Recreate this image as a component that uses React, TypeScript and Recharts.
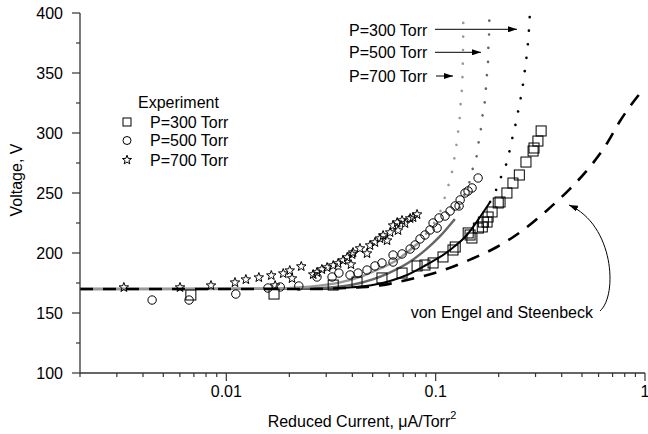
import React from "react";
import { ComposedChart, XAxis, YAxis, Line, Scatter } from "recharts";

const FONT = '"Liberation Sans", Arial, Helvetica, sans-serif';
const AXIS = "#333";

// ---- axis ticks ----
const xTicks = [
  0.002, 0.003, 0.004, 0.005, 0.006, 0.007, 0.008, 0.009,
  0.01, 0.02, 0.03, 0.04, 0.05, 0.06, 0.07, 0.08, 0.09,
  0.1, 0.2, 0.3, 0.4, 0.5, 0.6, 0.7, 0.8, 0.9, 1,
];
const xMajorTicks = [0.01, 0.1, 1];
const xTickLabels = ["0.01", "0.1", "1"];
const yTicks = [100, 125, 150, 175, 200, 225, 250, 275, 300, 325, 350, 375, 400];
const yMajorTicks = [100, 150, 200, 250, 300, 350, 400];
const yTickLabels = ["100", "150", "200", "250", "300", "350", "400"];

// ---- experiment (reduced current, voltage) ----
const exp300Torr: [number, number][] = [
  [0.00677, 165], [0.0169, 165.8], [0.0324, 173.3], [0.0421, 175.8], [0.0554, 179.2],
  [0.0691, 183.3], [0.0815, 189.2], [0.0889, 190], [0.0972, 191.7], [0.1084, 196.7],
  [0.121, 202.5], [0.124, 205], [0.143, 216.7], [0.146, 215], [0.149, 212.5],
  [0.16, 220.8], [0.167, 221.7], [0.169, 225.8], [0.176, 225.8], [0.178, 230],
  [0.186, 234.2], [0.199, 241.7], [0.203, 242.5], [0.219, 250], [0.234, 258.3],
  [0.251, 265], [0.27, 275.8], [0.292, 285], [0.295, 287.5], [0.308, 293.3], [0.319, 301.7],
];
const exp500Torr: [number, number][] = [
  [0.00442, 160.8], [0.00664, 160.8], [0.0111, 165.8], [0.0158, 170.8], [0.0181, 171.7],
  [0.0222, 172.5], [0.0271, 180], [0.032, 180], [0.0345, 183.3], [0.039, 181.7],
  [0.0426, 183.3], [0.047, 185.8], [0.0513, 189.2], [0.0554, 191.7], [0.0626, 198.3],
  [0.0626, 192.5], [0.0691, 199.2], [0.0755, 203.3], [0.0798, 206.7], [0.0842, 211.7],
  [0.0889, 215], [0.094, 219.2], [0.0972, 225], [0.1016, 220.8], [0.1038, 229.2],
  [0.1109, 230.8], [0.1172, 235], [0.1239, 239.2], [0.1294, 239.2], [0.1309, 244.2],
  [0.1381, 250], [0.1428, 251.7], [0.1492, 254.2], [0.1595, 262.5],
];
const exp700Torr: [number, number][] = [
  [0.00324, 171.7], [0.00601, 171.7], [0.00845, 173.3], [0.011, 175.8], [0.0124, 178.3],
  [0.0143, 180], [0.0164, 181.7], [0.0171, 173.3], [0.0187, 183.3], [0.0201, 185.8],
  [0.0206, 179.2], [0.0228, 189.2], [0.026, 182.5], [0.0271, 184.2], [0.0286, 186.7],
  [0.0303, 188.3], [0.0324, 190], [0.0342, 191.7], [0.0361, 194.2], [0.0378, 196.7],
  [0.0394, 190.8], [0.0399, 199.2], [0.0403, 200.8], [0.0435, 204.2], [0.047, 200],
  [0.0486, 206.7], [0.0513, 209.2], [0.0542, 212.5], [0.0561, 215], [0.0586, 210.8],
  [0.0606, 217.5], [0.0626, 223.3], [0.0655, 225.8], [0.0661, 219.2], [0.0691, 227.5],
  [0.0714, 225], [0.0755, 229.2], [0.078, 230], [0.0815, 232.5],
];

// ---- model curves ----
const model300Solid: [number, number][] = [
  [0.002, 170], [0.02, 170], [0.03, 170.3], [0.04, 171.5], [0.05, 173.3], [0.06, 176.5],
  [0.073, 181.7], [0.09, 190], [0.105, 196.7], [0.12, 204], [0.141, 215], [0.16, 228], [0.182, 242.5],
];
const model300Dotted: [number, number][] = [
  [0.182, 242.5], [0.196, 254], [0.207, 265], [0.219, 276], [0.227, 287.5], [0.234, 298],
  [0.242, 309], [0.249, 320], [0.256, 331], [0.262, 342], [0.267, 353], [0.272, 364],
  [0.276, 375], [0.279, 386], [0.282, 400],
];
const model500Solid: [number, number][] = [
  [0.002, 170], [0.02, 170.2], [0.03, 171], [0.04, 173.5], [0.05, 178], [0.06, 183.5],
  [0.075, 192.5], [0.09, 203], [0.105, 214], [0.1225, 227.5],
];
const model500Dotted: [number, number][] = [
  [0.1225, 227.5], [0.131, 239], [0.138, 250], [0.146, 260.8], [0.151, 271.7], [0.158, 283.3],
  [0.161, 294], [0.165, 305], [0.168, 316.7], [0.172, 327.5], [0.174, 338], [0.176, 350],
  [0.178, 361], [0.1785, 371.7], [0.18, 383], [0.1805, 395], [0.181, 400],
];
const model700Solid: [number, number][] = [
  [0.002, 170], [0.015, 170.3], [0.025, 172], [0.035, 175.5], [0.045, 181], [0.055, 187.5],
  [0.065, 194], [0.0815, 207.5],
];
const model700Dotted: [number, number][] = [
  [0.0815, 207.5], [0.09, 216], [0.099, 226], [0.107, 238], [0.112, 250], [0.117, 260.8],
  [0.121, 271.7], [0.124, 283.3], [0.127, 295.8], [0.129, 306.7], [0.131, 317.5], [0.132, 329],
  [0.134, 340], [0.1345, 351], [0.135, 362.5], [0.1352, 373], [0.1354, 384], [0.1355, 400],
];
const engelSteenbeck: [number, number][] = [
  [0.002, 170], [0.025, 170], [0.0313, 170.3], [0.0412, 171.2], [0.0542, 173], [0.073, 177.5],
  [0.108, 185.5], [0.146, 194.5], [0.196, 205], [0.259, 218.5], [0.34, 235.5], [0.438, 253.5],
  [0.547, 272], [0.659, 291.5], [0.76, 310], [0.917, 330], [1, 338],
];

const pts = (a: [number, number][]) => a.map(([x, y]) => ({ x, y }));

const findIdx = (list: number[], v: number) =>
  list.findIndex((m) => Math.abs(m - v) <= Math.abs(m) * 1e-6);

// ---- ticks ----
const BottomTick = (p: any) => {
  const { x, y, payload } = p;
  const i = findIdx(xMajorTicks, payload.value);
  return (
    <g>
      <line x1={x} x2={x} y1={y} y2={y + (i >= 0 ? 8 : 4)} stroke={AXIS} strokeWidth={1.2} />
      {i >= 0 && (
        <text x={x} y={y + 24} textAnchor="middle" fontSize={16} fontFamily={FONT} fill="#000">
          {xTickLabels[i]}
        </text>
      )}
    </g>
  );
};
const TopTick = (p: any) => {
  const { x, y, payload } = p;
  const i = findIdx(xMajorTicks, payload.value);
  return <line x1={x} x2={x} y1={y} y2={y - (i >= 0 ? 8 : 4)} stroke={AXIS} strokeWidth={1.2} />;
};
const LeftTick = (p: any) => {
  const { x, y, payload } = p;
  const i = findIdx(yMajorTicks, payload.value);
  return (
    <g>
      <line x1={x} x2={x - (i >= 0 ? 8 : 4)} y1={y} y2={y} stroke={AXIS} strokeWidth={1.2} />
      {i >= 0 && (
        <text x={x - 17} y={y + 5.7} textAnchor="end" fontSize={16} fontFamily={FONT} fill="#000">
          {yTickLabels[i]}
        </text>
      )}
    </g>
  );
};
const RightTick = (p: any) => {
  const { x, y, payload } = p;
  const i = findIdx(yMajorTicks, payload.value);
  return <line x1={x} x2={x + (i >= 0 ? 8 : 4)} y1={y} y2={y} stroke={AXIS} strokeWidth={1.2} />;
};

// ---- markers ----
const starPath = (cx: number, cy: number, R: number) => {
  const r = R * 0.42;
  let d = "";
  for (let k = 0; k < 10; k++) {
    const rad = k % 2 === 0 ? R : r;
    const a = -Math.PI / 2 + (k * Math.PI) / 5;
    d += (k === 0 ? "M" : "L") + (cx + rad * Math.cos(a)).toFixed(2) + "," + (cy + rad * Math.sin(a)).toFixed(2);
  }
  return d + "Z";
};
const SquareShape = (p: any) => (
  <rect x={p.cx - 5} y={p.cy - 5} width={10} height={10} fill="none" stroke="#000" strokeWidth={1} />
);
const CircleShape = (p: any) => (
  <circle cx={p.cx} cy={p.cy} r={4.2} fill="none" stroke="#000" strokeWidth={1} />
);
const StarShape = (p: any) => (
  <path d={starPath(p.cx, p.cy + 0.5, 5)} fill="none" stroke="#000" strokeWidth={1} strokeLinejoin="miter" />
);

const axisLine = { stroke: AXIS, strokeWidth: 1.3 };

export default function App() {
  const lineCommon = {
    xAxisId: "b",
    yAxisId: "l",
    dataKey: "y",
    type: "monotone" as const,
    dot: false,
    activeDot: false,
    isAnimationActive: false,
    legendType: "none" as const,
  };
  const dotted = { strokeDasharray: "0.1 13.5", strokeLinecap: "round" as const, strokeWidth: 2.6 };
  return (
    <div style={{ position: "relative", width: 648, height: 434, fontFamily: FONT }}>
      <style>{"body{margin:0}"}</style>
      <ComposedChart width={648} height={434} margin={{ top: 13, right: 3, bottom: 0, left: 0 }}>
        <XAxis
          xAxisId="b"
          type="number"
          dataKey="x"
          scale="log"
          domain={[0.002, 1]}
          allowDataOverflow
          ticks={xTicks}
          interval={0}
          tick={BottomTick}
          tickLine={false}
          tickSize={0}
          tickMargin={0}
          axisLine={axisLine}
          height={61}
          orientation="bottom"
        />
        <XAxis
          xAxisId="t"
          type="number"
          dataKey="x"
          scale="log"
          domain={[0.002, 1]}
          allowDataOverflow
          ticks={xTicks}
          interval={0}
          tick={TopTick}
          tickLine={false}
          tickSize={0}
          tickMargin={0}
          axisLine={axisLine}
          height={0}
          orientation="top"
        />
        <YAxis
          yAxisId="l"
          type="number"
          dataKey="y"
          domain={[100, 400]}
          allowDataOverflow
          ticks={yTicks}
          interval={0}
          tick={LeftTick}
          tickLine={false}
          tickSize={0}
          tickMargin={0}
          axisLine={axisLine}
          width={80}
          orientation="left"
        />
        <YAxis
          yAxisId="r"
          type="number"
          dataKey="y"
          domain={[100, 400]}
          allowDataOverflow
          ticks={yTicks}
          interval={0}
          tick={RightTick}
          tickLine={false}
          tickSize={0}
          tickMargin={0}
          axisLine={axisLine}
          width={0}
          orientation="right"
        />
        <Line {...lineCommon} data={pts(model300Solid)} stroke="#000" strokeWidth={2} />
        <Line {...lineCommon} data={pts(model500Solid)} stroke="#666" strokeWidth={2.4} />
        <Line {...lineCommon} data={pts(model700Solid)} stroke="#999" strokeWidth={2.4} />
        <Line {...lineCommon} data={pts(model300Dotted)} stroke="#000" {...dotted} />
        <Line {...lineCommon} data={pts(model500Dotted)} stroke="#666" {...dotted} />
        <Line {...lineCommon} data={pts(model700Dotted)} stroke="#999" {...dotted} />
        <Line
          {...lineCommon}
          data={pts(engelSteenbeck)}
          stroke="#000"
          strokeWidth={2.6}
          strokeDasharray="13 10"
        />
        <Scatter xAxisId="b" yAxisId="l" data={pts(exp300Torr)} shape={SquareShape} isAnimationActive={false} />
        <Scatter xAxisId="b" yAxisId="l" data={pts(exp500Torr)} shape={CircleShape} isAnimationActive={false} />
        <Scatter xAxisId="b" yAxisId="l" data={pts(exp700Torr)} shape={StarShape} isAnimationActive={false} />
      </ComposedChart>
      <svg
        width={648}
        height={434}
        style={{ position: "absolute", left: 0, top: 0, pointerEvents: "none" }}
        fontFamily={FONT}
        fontSize={16}
      >
        <defs>
          <marker id="ah" markerUnits="userSpaceOnUse" markerWidth={9} markerHeight={6} refX={9} refY={3} orient="auto">
            <path d="M0,0 L9,3 L0,6 Z" fill="#000" />
          </marker>
        </defs>
        {/* axis titles */}
        <text x={362} y={427} textAnchor="middle" fill="#000">
          Reduced Current, μA/Torr
          <tspan fontSize={11} dy={-8}>2</tspan>
        </text>
        <text x={22} y={180} textAnchor="middle" fill="#000" transform="rotate(-90 22 180)">
          Voltage, V
        </text>
        {/* legend */}
        <text x={138} y={107.5} fill="#000">Experiment</text>
        <rect x={123} y={118} width={8} height={8} fill="none" stroke="#000" strokeWidth={1} />
        <text x={150} y={128} fill="#000">P=300 Torr</text>
        <circle cx={127} cy={140.5} r={4} fill="none" stroke="#000" strokeWidth={1} />
        <text x={150} y={146.4} fill="#000">P=500 Torr</text>
        <path d={starPath(127, 160, 4.8)} fill="none" stroke="#000" strokeWidth={1} />
        <text x={150} y={165.7} fill="#000">P=700 Torr</text>
        {/* model annotations */}
        <text x={349} y={36} fill="#000">P=300 Torr</text>
        <line x1={435} y1={29.3} x2={517} y2={29.3} stroke="#000" strokeWidth={1} markerEnd="url(#ah)" />
        <text x={349} y={58} fill="#000">P=500 Torr</text>
        <line x1={435} y1={52.3} x2={481} y2={52.3} stroke="#000" strokeWidth={1} markerEnd="url(#ah)" />
        <text x={349} y={82} fill="#000">P=700 Torr</text>
        <line x1={436} y1={76} x2={453} y2={76} stroke="#000" strokeWidth={1} markerEnd="url(#ah)" />
        <text x={593} y={318} textAnchor="end" fill="#000">von Engel and Steenbeck</text>
        <path d="M600,311 C618,295 614,225 569,205" fill="none" stroke="#000" strokeWidth={1} markerEnd="url(#ah)" />
      </svg>
    </div>
  );
}
